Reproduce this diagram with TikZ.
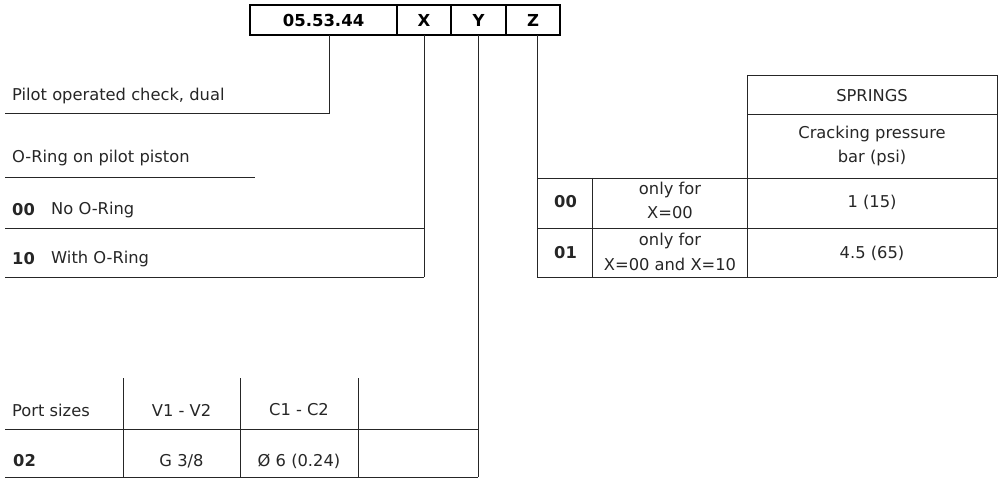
\documentclass[tikz,border=0pt]{standalone}
\usepackage{fontspec}
\setmainfont{DejaVu Sans}
\begin{document}
\begin{tikzpicture}[x=1pt,y=-1pt,
  ln/.style={line width=0.8pt, black!85},
  txt/.style={inner sep=0pt, font=\fontsize{16.3}{18}\selectfont, text=black!85},
  bt/.style={txt, font=\fontsize{16.3}{18}\selectfont\bfseries},
  hd/.style={inner sep=0pt, font=\fontsize{16.5}{18}\selectfont\bfseries}]
\useasboundingbox (0,0) rectangle (1004,489);
% header
\draw[line width=2pt] (250,5) rectangle (560,35);
\draw[line width=2pt] (397,5) -- (397,35) (451,5) -- (451,35) (506,5) -- (506,35);
\node[hd] (code) at (323.5,20) {05.53.44};
\node[hd] (hx) at (424,20) {X};
\node[hd] (hy) at (478.5,20) {Y};
\node[hd] (hz) at (533,20) {Z};
% code leader
\draw[ln] (329,35) -- (329,113) -- (5,113);
\node[txt, anchor=west] (pil) at (12,96) {Pilot operated check, dual};
% X
\node[txt, anchor=west] (oring) at (12,158) {O-Ring on pilot piston};
\draw[ln] (5,177) -- (255,177);
\node[bt, anchor=west] (x00) at (12,210) {00};
\node[txt, anchor=west] (x00t) at (51,210) {No O-Ring};
\draw[ln] (5,228) -- (424,228);
\node[bt, anchor=west] (x10) at (12,259) {10};
\node[txt, anchor=west] (x10t) at (51,259) {With O-Ring};
\draw[ln] (5,277) -- (424,277);
\draw[ln] (424,35) -- (424,277);
% Y
\draw[ln] (478,35) -- (478,477);
\draw[ln] (123,378) -- (123,477) (240,378) -- (240,477) (358,378) -- (358,477);
\draw[ln] (5,429) -- (478,429) (5,477) -- (478,477);
\node[txt, anchor=west] (ps) at (12,410) {Port sizes};
\node[txt] (v12) at (181.5,410) {V1 - V2};
\node[txt] (c12) at (299,410) {C1 - C2};
\node[bt, anchor=west] (y02) at (13,461) {02};
\node[txt] (g38) at (181.5,461) {G 3/8};
\node[txt] (d6) at (299,461) {Ø 6 (0.24)};
% Z
\draw[ln] (537,35) -- (537,277);
\draw[ln] (747,75) -- (997,75) (747,114) -- (997,114);
\draw[ln] (537,178) -- (997,178) (537,228) -- (997,228) (537,277) -- (997,277);
\draw[ln] (592,178) -- (592,277) (747,75) -- (747,277) (997,75) -- (997,277);
\node[txt] (spr) at (872,96) {SPRINGS};
\node[txt] (crk) at (872,134) {Cracking pressure};
\node[txt] (bar) at (872,158) {bar (psi)};
\node[bt, anchor=west] (z00) at (554,202) {00};
\node[txt] (o1) at (670,190) {only for};
\node[txt] (o1b) at (670,213) {X=00};
\node[txt] (p1) at (872,202) {1 (15)};
\node[bt, anchor=west] (z01) at (554,253) {01};
\node[txt] (o2) at (670,241) {only for};
\node[txt] (o2b) at (670,264) {X=00 and X=10};
\node[txt] (p2) at (872,253) {4.5 (65)};
\end{tikzpicture}
\end{document}
